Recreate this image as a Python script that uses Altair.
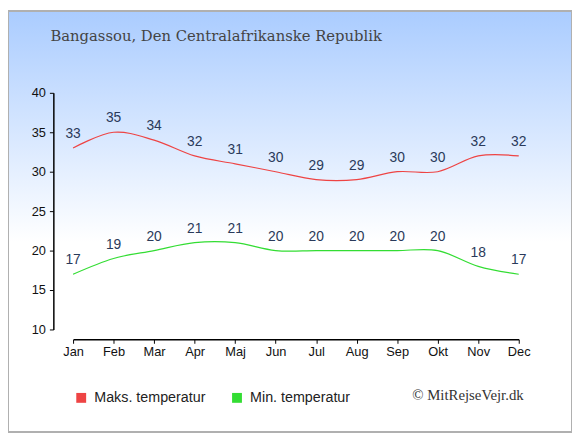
import altair as alt
import pandas as pd

months = ["Jan", "Feb", "Mar", "Apr", "Maj", "Jun", "Jul", "Aug", "Sep", "Okt", "Nov", "Dec"]
max_temp = [33, 35, 34, 32, 31, 30, 29, 29, 30, 30, 32, 32]
min_temp = [17, 19, 20, 21, 21, 20, 20, 20, 20, 20, 18, 17]
series_names = ["Maks. temperatur", "Min. temperatur"]
series_colors = ["#ee4444", "#33dd33"]
y_ticks = [10, 15, 20, 25, 30, 35, 40]
title_text = "Bangassou, Den Centralafrikanske Republik"
credit_text = "© MitRejseVejr.dk"

W, H = 452, 240
PL, PT = 66, 83
PR, PB = 54, 104

rows = []
for m, v in zip(months, max_temp):
    rows.append({"month": m, "temp": v, "series": series_names[0]})
for m, v in zip(months, min_temp):
    rows.append({"month": m, "temp": v, "series": series_names[1]})
df = pd.DataFrame(rows)

one = pd.DataFrame({"k": [0]})

bg = alt.Chart(one).mark_rect(
    color=alt.Gradient(
        gradient="linear",
        stops=[alt.GradientStop(color="#aaccff", offset=0),
               alt.GradientStop(color="#ffffff", offset=0.55),
               alt.GradientStop(color="#ffffff", offset=1)],
        x1=0, x2=0, y1=0, y2=1),
    stroke="#b0b0b0", strokeWidth=2,
).encode(x=alt.value(-PL), x2=alt.value(W + PR), y=alt.value(-PT), y2=alt.value(H + PB))

xenc = alt.X("month:N", sort=months, scale=alt.Scale(type="point", padding=0),
             axis=alt.Axis(title=None, labelAngle=0, offset=10, labelPadding=2, grid=False, zindex=1))
yenc = alt.Y("temp:Q", scale=alt.Scale(domain=[10, 40], nice=False, zero=False),
             axis=alt.Axis(title=None, values=y_ticks, offset=20, labelOverlap=False,
                           labelPadding=4, grid=False, zindex=1))

color = alt.Color("series:N", scale=alt.Scale(domain=series_names, range=series_colors),
                  legend=alt.Legend(title=None, orient="none", legendX=1, legendY=302,
                                    direction="horizontal", symbolType="square", symbolSize=25,
                                    symbolStrokeWidth=5,
                                    labelFontSize=14.5, labelFont="Liberation Sans", labelColor="#222",
                                    labelOffset=6, columnPadding=18))

lines = alt.Chart(df).mark_line(interpolate="cardinal", tension=0, strokeWidth=1.2).encode(
    x=xenc, y=yenc, color=color, detail="series:N")

labels = alt.Chart(df).mark_text(dy=-14, fontSize=14, font="Liberation Sans", color="#2a3a5a").encode(
    x=xenc, y=yenc, text="temp:Q")

title = alt.Chart(one).mark_text(text=title_text, align="left", baseline="alphabetic",
                                 font="DejaVu Serif", fontSize=15, color="#444444").encode(
    x=alt.value(51 - 74), y=alt.value(38 - 91))

credit = alt.Chart(one).mark_text(text=credit_text, align="left", baseline="middle",
                                  font="Liberation Serif", fontSize=15, color="#333333").encode(
    x=alt.value(418 - 74), y=alt.value(398 - 91))

chart = alt.layer(bg, lines, labels, title, credit).properties(
    width=W, height=H,
    autosize=alt.AutoSizeParams(type="none"),
    padding={"left": PL, "top": PT, "right": PR, "bottom": PB},
).configure_view(stroke=None).configure(background="#ffffff").configure_axis(
    labelFontSize=13, labelFont="Liberation Sans", labelColor="#111",
    domainColor="#000", tickColor="#000", tickSize=4, domainWidth=1.5)

chart.save("out.html", embed_options={"renderer": "svg", "actions": False})
